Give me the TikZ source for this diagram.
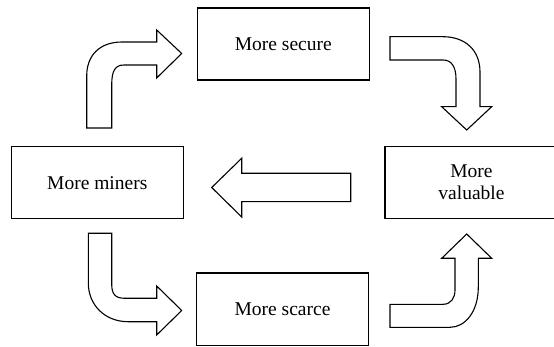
\documentclass[tikz,border=0pt]{standalone}
\usepackage{fontspec}
\setmainfont{Liberation Serif}
\newfontfamily\boxfont{Liberation Serif}
\begin{document}
\begin{tikzpicture}[x=1pt,y=-1pt,
  box/.style={draw=black, line width=1.6pt, minimum width=172pt, minimum height=72pt, inner sep=0pt, align=center, font=\boxfont\fontsize{19.5}{21.5}\selectfont},
  blockarrow/.style={draw=black, fill=white, line width=1.1pt, line join=miter}]
\clip (0,0) rectangle (554,347);
\fill[white] (0,0) rectangle (554,347);
% boxes
\node[box] (secure) at (283.3,44.2) {More secure};
\node[box, minimum width=173pt] (valuable) at (471.5,182.4) {More\\valuable};
\node[box] (miners) at (97.3,182.7) {More miners};
\node[box] (scarce) at (282.5,309.3) {More scarce};
% top-left bent arrow (miners -> secure)
\draw[blockarrow] (86.7,128) -- (86.7,76)
  .. controls (86.7,55) and (100,42) .. (122,42)
  -- (156.7,42) -- (156.7,30) -- (181.7,53.5) -- (156.7,78) -- (156.7,65) -- (124,65)
  .. controls (115,65) and (111.7,71) .. (111.7,85)
  -- (111.7,128) -- cycle;
% top-right bent arrow (secure -> valuable)
\draw[blockarrow] (390,36.7) -- (443,36.7)
  .. controls (465,36.7) and (480,50) .. (480,72)
  -- (480,106.7) -- (491.7,106.7) -- (466.7,130) -- (441.7,106.7) -- (456,106.7) -- (456,79)
  .. controls (456,66) and (451,60) .. (443,60)
  -- (390,60) -- cycle;
% left straight arrow (valuable -> miners)
\draw[blockarrow] (211.7,187.5) -- (241.7,158.3) -- (241.7,173.3) -- (350.7,173.3)
  -- (350.7,201.7) -- (241.7,201.7) -- (241.7,217) -- cycle;
% bottom-left bent arrow (miners -> scarce)
\draw[blockarrow] (88.3,233.3) -- (88.3,283)
  .. controls (88.3,305) and (105,321.7) .. (128,321.7)
  -- (156.7,321.7) -- (156.7,335) -- (181.7,310.5) -- (156.7,286) -- (156.7,298.3) -- (125,298.3)
  .. controls (115,298.3) and (111.7,294) .. (111.7,284)
  -- (111.7,233.3) -- cycle;
% bottom-right bent arrow (scarce -> valuable)
\draw[blockarrow] (390,304.3) -- (443,304.3)
  .. controls (451,304.3) and (455,298) .. (455,290)
  -- (455,258.3) -- (441.7,258.3) -- (466.7,234) -- (491.7,258.3) -- (478.3,258.3) -- (478.3,287)
  .. controls (478.3,312) and (465,327.3) .. (450,327.3)
  -- (390,327.3) -- cycle;
\end{tikzpicture}
\end{document}
